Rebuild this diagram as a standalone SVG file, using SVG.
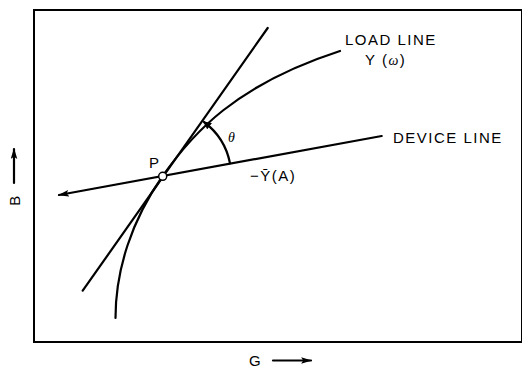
<svg xmlns="http://www.w3.org/2000/svg" width="522" height="368" viewBox="0 0 522 368">
<style>
.ln{fill:none;stroke:#000;stroke-width:2.2;stroke-linecap:round}
.t{font-family:"Liberation Sans",Arial,sans-serif;font-size:15px;fill:#000;letter-spacing:1.5px}
.g{font-family:"Liberation Serif","Times New Roman",serif;font-style:italic;fill:#000}
</style>
<defs>
<marker id="ah" viewBox="0 0 10 6" refX="9" refY="3" markerWidth="11" markerHeight="7" markerUnits="userSpaceOnUse" orient="auto">
<path d="M0,0 L10,3 L0,6 L2,3 Z" fill="#000"/>
</marker>
<marker id="ah2" viewBox="0 0 8 8" refX="7" refY="4" markerWidth="8" markerHeight="8" markerUnits="userSpaceOnUse" orient="auto">
<path d="M0,0 L8,4 L0,8 Z" fill="#000"/>
</marker>
</defs>
<rect x="34" y="10" width="488" height="332" fill="none" stroke="#000" stroke-width="2"/>
<g id="connectors">
<path id="tangent" class="ln" d="M82.7,290.7 L267.7,28"/>
<path id="loadline" class="ln" d="M115.5,318 C115.5,270 131.7,220 162.7,176 C192,134 235,85 340,51"/>
<path id="deviceline" class="ln" stroke-width="2" d="M381.7,136 L59,195" marker-end="url(#ah)"/>
<path id="theta-arc" class="ln" stroke-width="1.5" d="M230,163.3 A68,68 0 0 0 204,122" marker-end="url(#ah2)"/>
<path id="b-arrow" class="ln" stroke-width="3" d="M14,183 L14,149" marker-end="url(#ah)"/>
<path id="g-arrow" class="ln" stroke-width="3" d="M273,360.5 L311,360.5" marker-end="url(#ah)"/>
</g>
<g id="P">
<circle cx="162.7" cy="176.3" r="4" fill="#fff" stroke="#000" stroke-width="1.5"/>
<text class="t" x="149" y="168" font-size="16">P</text>
</g>
<g id="load-label">
<text class="t" x="345" y="45">LOAD LINE</text>
<text class="t" x="365" y="65">Y (<tspan class="g" font-size="14">ω</tspan>)</text>
</g>
<g id="device-label">
<text class="t" x="393" y="142.5">DEVICE LINE</text>
<text class="t" x="250" y="181" font-size="16" letter-spacing="1">−Ȳ(A)</text>
</g>
<text class="g" x="228" y="142" font-size="14">θ</text>
<text class="t" x="14" y="200" text-anchor="middle" font-size="16" transform="rotate(-90 14 200) translate(0 5.5)" letter-spacing="0">B</text>
<text class="t" x="249" y="366" font-size="16" letter-spacing="0">G</text>
</svg>
